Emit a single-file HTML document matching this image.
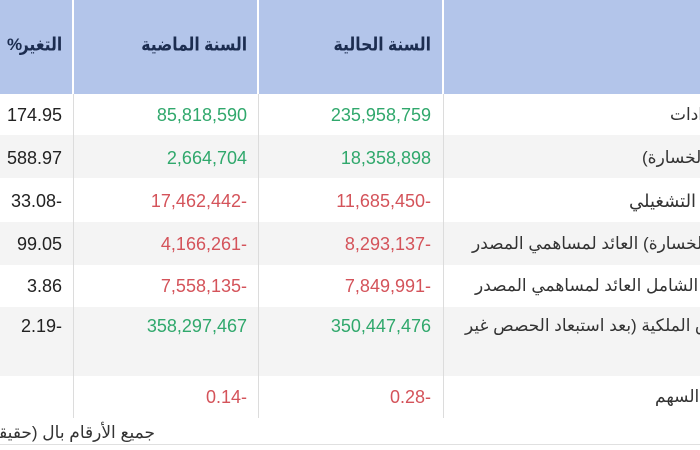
<!DOCTYPE html>
<html><head><meta charset="utf-8">
<style>
html,body{margin:0;padding:0;}
body{width:700px;height:450px;overflow:hidden;background:#fff;font-family:"Liberation Sans","DejaVu Sans",sans-serif;}
#wrap{position:relative;width:700px;height:450px;overflow:hidden;}
.abs{position:absolute;white-space:nowrap;}
.hdr{position:absolute;left:0;top:0;width:700px;height:94px;background:#b3c5ea;}
.row{position:absolute;left:0;width:700px;}
.g{background:#f4f4f4;}
.vl{position:absolute;width:1px;background:#dcdcdc;top:94px;height:324px;}
.hvl{position:absolute;width:2px;background:#fff;top:0;height:94px;}
.h{font-weight:bold;color:#1c2d50;font-size:17px;direction:rtl;text-align:right;line-height:20px;top:35px;transform:scale(0.92,1.08);transform-origin:right center;}
.n{font-size:18px;line-height:20px;direction:ltr;text-align:right;unicode-bidi:bidi-override;}
.gr{color:#30a86c;}
.rd{color:#d4535a;}
.bk{color:#222;}
.lb{font-size:17px;line-height:20px;color:#333;direction:rtl;}
</style></head><body><div id="wrap">
<div class="hdr"></div>
<div class="hvl" style="left:72px"></div>
<div class="hvl" style="left:257px"></div>
<div class="hvl" style="left:442px"></div>

<div class="row" style="top:94px;height:41px"></div>
<div class="row g" style="top:135px;height:43px"></div>
<div class="row" style="top:178px;height:44px"></div>
<div class="row g" style="top:222px;height:43px"></div>
<div class="row" style="top:265px;height:42px"></div>
<div class="row g" style="top:307px;height:69px"></div>
<div class="row" style="top:376px;height:42px"></div>

<div class="vl" style="left:73px"></div>
<div class="vl" style="left:258px"></div>
<div class="vl" style="left:443px"></div>

<div class="abs" style="left:0;top:444px;width:700px;height:1px;background:#e0e0e0"></div>

<!-- headers -->
<div class="abs h" style="right:638px">التغير</div>
<div class="abs" style="left:7px;top:35px;font-size:17px;line-height:20px;font-weight:bold;color:#1c2d50;">%</div>
<div class="abs h" style="right:453px">السنة الماضية</div>
<div class="abs h" style="right:269px">السنة الحالية</div>

<!-- change column -->
<div class="abs n bk" style="right:638px;top:105px">174.95</div>
<div class="abs n bk" style="right:638px;top:148px">588.97</div>
<div class="abs n bk" style="right:644px;top:191px">33.08</div><div class="abs n bk" style="right:638px;top:191px">-</div>
<div class="abs n bk" style="right:638px;top:234px">99.05</div>
<div class="abs n bk" style="right:638px;top:276px">3.86</div>
<div class="abs n bk" style="right:644px;top:316px">2.19</div><div class="abs n bk" style="right:638px;top:316px">-</div>

<!-- previous year -->
<div class="abs n gr" style="right:453px;top:105px">85,818,590</div>
<div class="abs n gr" style="right:453px;top:148px">2,664,704</div>
<div class="abs n rd" style="right:459px;top:191px">17,462,442</div><div class="abs n rd" style="right:453px;top:191px">-</div>
<div class="abs n rd" style="right:459px;top:234px">4,166,261</div><div class="abs n rd" style="right:453px;top:234px">-</div>
<div class="abs n rd" style="right:459px;top:276px">7,558,135</div><div class="abs n rd" style="right:453px;top:276px">-</div>
<div class="abs n gr" style="right:453px;top:316px">358,297,467</div>
<div class="abs n rd" style="right:459px;top:387px">0.14</div><div class="abs n rd" style="right:453px;top:387px">-</div>

<!-- current year -->
<div class="abs n gr" style="right:269px;top:105px">235,958,759</div>
<div class="abs n gr" style="right:269px;top:148px">18,358,898</div>
<div class="abs n rd" style="right:275px;top:191px">11,685,450</div><div class="abs n rd" style="right:269px;top:191px">-</div>
<div class="abs n rd" style="right:275px;top:234px">8,293,137</div><div class="abs n rd" style="right:269px;top:234px">-</div>
<div class="abs n rd" style="right:275px;top:276px">7,849,991</div><div class="abs n rd" style="right:269px;top:276px">-</div>
<div class="abs n gr" style="right:269px;top:316px">350,447,476</div>
<div class="abs n rd" style="right:275px;top:387px">0.28</div><div class="abs n rd" style="right:269px;top:387px">-</div>

<!-- labels (left-anchored, clipped on the right) -->
<div class="abs lb" style="left:670px;top:105px">الإيرادات</div>
<div class="abs lb" style="left:642px;top:148px">إجمالي الربح (الخسارة)</div>
<div class="abs lb" style="left:629px;top:191px;font-size:18px">الربح التشغيلي</div>
<div class="abs lb" style="left:472px;top:234px">صافي الربح (الخسارة) العائد لمساهمي المصدر</div>
<div class="abs lb" style="left:475px;top:276px">إجمالي الدخل الشامل العائد لمساهمي المصدر</div>
<div class="abs lb" style="left:465px;top:316px">حقوق الملكية (بعد استبعاد الحصص غير</div>
<div class="abs lb" style="left:720px;top:343px">المسيطرة)</div>
<div class="abs lb" style="left:655px;top:387px">ربحية السهم</div>

<!-- footer -->
<div class="abs lb" style="right:545px;top:423px;color:#333">جميع الأرقام بال (حقيقي) ريال سعودي</div>
</div></body></html>
